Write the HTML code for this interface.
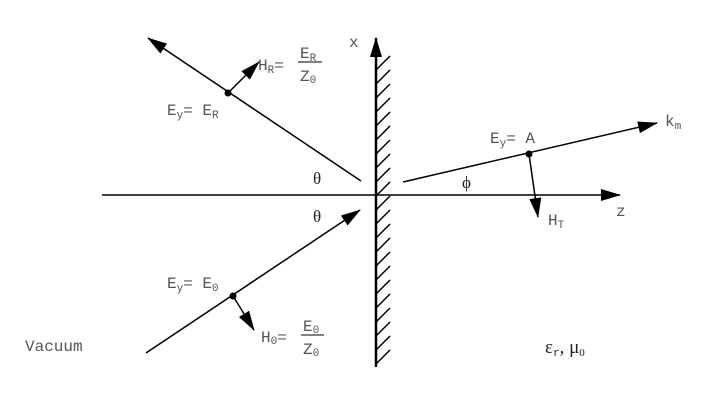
<!DOCTYPE html>
<html><head><meta charset="utf-8"><style>
html,body{margin:0;padding:0;background:#fff;}
svg{display:block}
text{font-family:"Liberation Mono",monospace;font-size:16px;fill:#555;}
.s{font-size:11px}
.g{font-family:"Liberation Serif",serif;font-size:17px;fill:#222}
</style></head><body>
<svg width="713" height="411" viewBox="0 0 713 411">
<defs>
<marker id="b" markerWidth="20" markerHeight="12" refX="19" refY="6" orient="auto" markerUnits="userSpaceOnUse" viewBox="0 0 20 12">
<path d="M0,0L20,6L0,12z" fill="#000"/></marker>
</defs>
<g stroke="#000" stroke-width="1.5" fill="none">
<line x1="102" y1="195" x2="620" y2="195" marker-end="url(#b)"/>
<line x1="376" y1="367" x2="376" y2="38" stroke-width="2.5" marker-end="url(#b)"/>
<path d="M376,70l14,-14 M376,84l14,-14 M376,98l14,-14 M376,112l14,-14 M376,126l14,-14 M376,140l14,-14 M376,154l14,-14 M376,168l14,-14 M376,182l14,-14 M376,196l14,-14 M376,210l14,-14 M376,224l14,-14 M376,238l14,-14 M376,252l14,-14 M376,266l14,-14 M376,280l14,-14 M376,294l14,-14 M376,308l14,-14 M376,322l14,-14 M376,336l14,-14 M376,350l14,-14 M376,364l14,-14"/>
<line x1="361" y1="181" x2="148" y2="38" marker-end="url(#b)"/>
<line x1="228" y1="93" x2="259" y2="62" marker-end="url(#b)"/>
<line x1="146" y1="353" x2="360" y2="210" marker-end="url(#b)"/>
<line x1="233" y1="296" x2="254" y2="330" marker-end="url(#b)"/>
<line x1="403" y1="182" x2="657" y2="123" marker-end="url(#b)"/>
<line x1="529" y1="154" x2="538" y2="217" marker-end="url(#b)"/>
<line x1="298" y1="62" x2="322" y2="62" stroke-width="1"/>
<line x1="301" y1="335" x2="324" y2="335" stroke-width="1"/>
</g>
<circle cx="228" cy="93" r="3.5"/><circle cx="233" cy="296" r="3.5"/><circle cx="529" cy="154" r="3.5"/>
<text x="349" y="47">x</text>
<text x="616" y="216">z</text>
<text class="g" x="313" y="184">θ</text>
<text class="g" x="313" y="222">θ</text>
<text class="g" x="462" y="188">ϕ</text>
<text x="167" y="115">E<tspan class="s" dy="3">y</tspan><tspan dy="-3">= E</tspan><tspan class="s" dy="3">R</tspan></text>
<text x="258" y="70">H<tspan class="s" dy="3">R</tspan><tspan dy="-3">=</tspan></text>
<text x="300" y="58">E<tspan class="s" dy="3">R</tspan></text>
<text x="300" y="81">Z<tspan class="s" dy="2">0</tspan></text>
<text x="167" y="288">E<tspan class="s" dy="3">y</tspan><tspan dy="-3">= E</tspan><tspan class="s" dy="3">0</tspan></text>
<text x="261" y="342">H<tspan class="s" dy="2">0</tspan><tspan dy="-2">=</tspan></text>
<text x="303" y="331">E<tspan class="s" dy="2">0</tspan></text>
<text x="303" y="354">Z<tspan class="s" dy="2">0</tspan></text>
<text x="490" y="143">E<tspan class="s" dy="3">y</tspan><tspan dy="-3">= A</tspan></text>
<text x="665" y="126">k<tspan class="s" dy="3">m</tspan></text>
<text x="548" y="225">H<tspan class="s" dy="3">T</tspan></text>
<text x="25" y="351">Vacuum</text>
<text x="545" y="353" class="g" style="font-size:19px">ε<tspan style="font-family:'Liberation Mono';font-size:11px" dy="3">r</tspan><tspan dy="-3">, μ</tspan><tspan style="font-size:11px" dy="3">0</tspan></text>
</svg>
</body></html>
